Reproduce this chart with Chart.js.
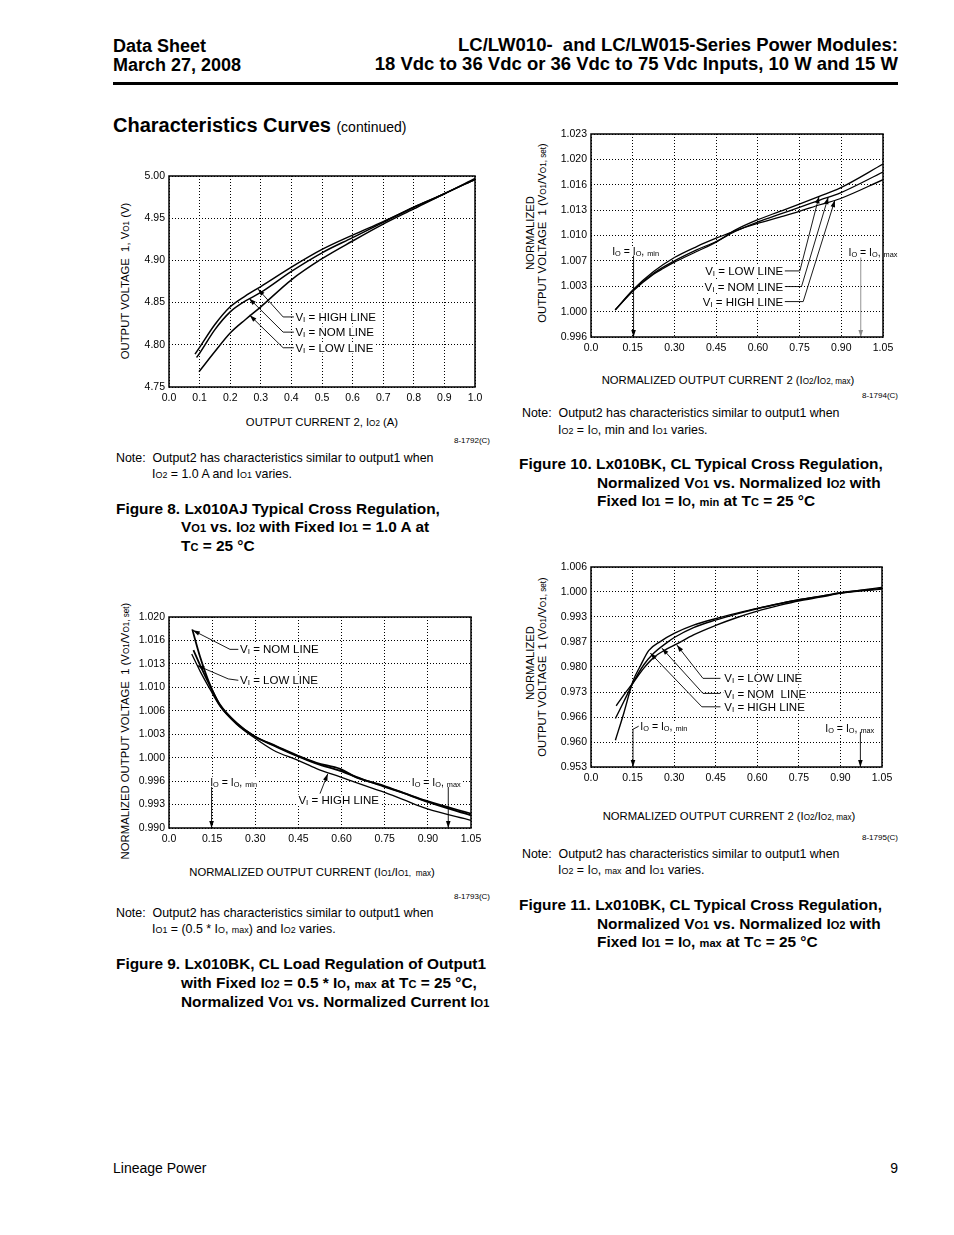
<!DOCTYPE html>
<html>
<head>
<meta charset="utf-8">
<script src="https://cdn.jsdelivr.net/npm/chart.js@4.4.1/dist/chart.umd.min.js"></script>
<style>
body { margin: 0; background: #fff; }
#page { position: relative; width: 954px; height: 1235px; overflow: hidden; font-family: "Liberation Sans", Arial, Helvetica, sans-serif; color: #000; }
.t { position: absolute; white-space: nowrap; line-height: 1; }
.s { font-size: 72%; }
.hd { font-size: 18px; font-weight: bold; }
.hr { font-size: 18.5px; font-weight: bold; }
.nt { font-size: 12.4px; }
.cp { font-size: 15.4px; font-weight: bold; }
.cd { font-size: 8px; }
.ax { font-size: 11.3px; transform: translateX(-50%); }
.ay { font-size: 11.3px; transform: translate(-50%, -50%) rotate(-90deg); }
canvas { position: absolute; }
</style>
</head>
<body>
<div id="page">

<div class="t hd" style="left:113px;top:37px">Data Sheet</div>
<div class="t hd" style="left:113px;top:56px">March 27, 2008</div>
<div class="t hr" style="right:56px;top:36px">LC/LW010-&nbsp; and LC/LW015-Series Power Modules:</div>
<div class="t hr" style="right:56px;top:55px">18 Vdc to 36 Vdc or 36 Vdc to 75 Vdc Inputs, 10 W and 15 W</div>
<div style="position:absolute;left:113px;top:82px;width:785px;height:3px;background:#000"></div>
<div class="t" style="left:113px;top:115px;font-size:20px;font-weight:bold">Characteristics Curves <span style="font-size:14px;font-weight:normal">(continued)</span></div>

<!-- figure 8 texts -->
<div class="t ay" style="left:126px;top:281px">OUTPUT VOLTAGE&nbsp; 1, V<span class="s">O1</span> (V)</div>
<div class="t ax" style="left:322px;top:417px">OUTPUT CURRENT 2, I<span class="s">O2</span> (A)</div>
<div class="t cd" style="right:464px;top:437px">8-1792(C)</div>
<div class="t nt" style="left:116px;top:452px">Note:&nbsp; Output2 has characteristics similar to output1 when</div>
<div class="t nt" style="left:152px;top:468px">I<span class="s">O2</span> = 1.0 A and I<span class="s">O1</span> varies.</div>
<div class="t cp" style="left:116px;top:501px">Figure 8. Lx010AJ Typical Cross Regulation,</div>
<div class="t cp" style="left:181px;top:519px">V<span class="s">O1</span> vs. I<span class="s">O2</span> with Fixed I<span class="s">O1</span> = 1.0 A at</div>
<div class="t cp" style="left:181px;top:538px">T<span class="s">C</span> = 25 °C</div>

<!-- figure 10 texts -->
<div class="t ay" style="left:531px;top:233px">NORMALIZED</div>
<div class="t ay" style="left:543px;top:233px">OUTPUT VOLTAGE&nbsp; 1 (V<span class="s">O1</span>/V<span class="s">O1, set</span>)</div>
<div class="t ax" style="left:728px;top:375px">NORMALIZED OUTPUT CURRENT 2 (I<span class="s">O2</span>/I<span class="s">O2, max</span>)</div>
<div class="t cd" style="right:56px;top:392px">8-1794(C)</div>
<div class="t nt" style="left:522px;top:407px">Note:&nbsp; Output2 has characteristics similar to output1 when</div>
<div class="t nt" style="left:558px;top:424px">I<span class="s">O2</span> = I<span class="s">O</span>, min and I<span class="s">O1</span> varies.</div>
<div class="t cp" style="left:519px;top:456px">Figure 10. Lx010BK, CL Typical Cross Regulation,</div>
<div class="t cp" style="left:597px;top:475px">Normalized V<span class="s">O1</span> vs. Normalized I<span class="s">O2</span> with</div>
<div class="t cp" style="left:597px;top:493px">Fixed I<span class="s">O1</span> = I<span class="s">O</span>, <span class="s">min</span> at T<span class="s">C</span> = 25 °C</div>

<!-- figure 9 texts -->
<div class="t ay" style="left:126px;top:731px">NORMALIZED OUTPUT VOLTAGE&nbsp; 1 (V<span class="s">O1</span>/V<span class="s">O1, set</span>)</div>
<div class="t ax" style="left:312px;top:867px">NORMALIZED OUTPUT CURRENT (I<span class="s">O1</span>/I<span class="s">O1,&nbsp; max</span>)</div>
<div class="t cd" style="right:464px;top:893px">8-1793(C)</div>
<div class="t nt" style="left:116px;top:907px">Note:&nbsp; Output2 has characteristics similar to output1 when</div>
<div class="t nt" style="left:152px;top:923px">I<span class="s">O1</span> = (0.5 * I<span class="s">O</span>, <span class="s">max</span>) and I<span class="s">O2</span> varies.</div>
<div class="t cp" style="left:116px;top:956px">Figure 9. Lx010BK, CL Load Regulation of Output1</div>
<div class="t cp" style="left:181px;top:975px">with Fixed I<span class="s">O2</span> = 0.5 * I<span class="s">O</span>, <span class="s">max</span> at T<span class="s">C</span> = 25 °C,</div>
<div class="t cp" style="left:181px;top:994px">Normalized V<span class="s">O1</span> vs. Normalized Current I<span class="s">O1</span></div>

<!-- figure 11 texts -->
<div class="t ay" style="left:531px;top:663px">NORMALIZED</div>
<div class="t ay" style="left:543px;top:667px">OUTPUT VOLTAGE&nbsp; 1 (V<span class="s">O1</span>/V<span class="s">O1, set</span>)</div>
<div class="t ax" style="left:729px;top:811px">NORMALIZED OUTPUT CURRENT 2 (I<span class="s">O2</span>/I<span class="s">O2, max</span>)</div>
<div class="t cd" style="right:56px;top:834px">8-1795(C)</div>
<div class="t nt" style="left:522px;top:848px">Note:&nbsp; Output2 has characteristics similar to output1 when</div>
<div class="t nt" style="left:558px;top:864px">I<span class="s">O2</span> = I<span class="s">O</span>, <span class="s">max</span> and I<span class="s">O1</span> varies.</div>
<div class="t cp" style="left:519px;top:897px">Figure 11. Lx010BK, CL Typical Cross Regulation,</div>
<div class="t cp" style="left:597px;top:916px">Normalized V<span class="s">O1</span> vs. Normalized I<span class="s">O2</span> with</div>
<div class="t cp" style="left:597px;top:934px">Fixed I<span class="s">O1</span> = I<span class="s">O</span>, <span class="s">max</span> at T<span class="s">C</span> = 25 °C</div>

<div class="t" style="left:113px;top:1161px;font-size:14px">Lineage Power</div>
<div class="t" style="right:56px;top:1161px;font-size:14px">9</div>

<canvas id="fig8"></canvas>
<canvas id="fig10"></canvas>
<canvas id="fig9"></canvas>
<canvas id="fig11"></canvas>
</div>

<script>
// ---------- data ----------

// Figure 8: Vo1 (V) vs Io2 (A)
const fig8XTicks = ['0.0', '0.1', '0.2', '0.3', '0.4', '0.5', '0.6', '0.7', '0.8', '0.9', '1.0'];
const fig8YTicks = ['4.75', '4.80', '4.85', '4.90', '4.95', '5.00'];
const fig8HighX = [0.085, 0.10, 0.15, 0.20, 0.25, 0.30, 0.40, 0.50, 0.60, 0.70, 0.80, 0.90, 1.00];
const fig8HighY = [4.789, 4.797, 4.824, 4.845, 4.858, 4.869, 4.892, 4.913, 4.930, 4.946, 4.963, 4.979, 4.997];
const fig8NomX = [0.09, 0.10, 0.15, 0.20, 0.25, 0.30, 0.40, 0.50, 0.60, 0.70, 0.80, 0.90, 1.00];
const fig8NomY = [4.785, 4.790, 4.818, 4.839, 4.852, 4.862, 4.887, 4.909, 4.927, 4.945, 4.963, 4.979, 4.996];
const fig8LowX = [0.098, 0.15, 0.20, 0.25, 0.30, 0.40, 0.50, 0.60, 0.70, 0.80, 0.90, 1.00];
const fig8LowY = [4.768, 4.792, 4.814, 4.830, 4.845, 4.877, 4.902, 4.923, 4.943, 4.961, 4.979, 4.996];

// Figure 10: normalized Vo1 vs normalized Io2, Io1 = Io,min
const fig10XTicks = ['0.0', '0.15', '0.30', '0.45', '0.60', '0.75', '0.90', '1.05'];
const fig10YTicks = ['0.996', '1.000', '1.003', '1.007', '1.010', '1.013', '1.016', '1.020', '1.023'];
const fig10X = [0.087, 0.153, 0.225, 0.300, 0.380, 0.450, 0.518, 0.599, 0.679, 0.749, 0.823, 0.895, 1.05];
const fig10High = [0.9996, 1.00235, 1.00470, 1.00657, 1.00803, 1.00914, 1.01012, 1.01110, 1.01194, 1.01270, 1.01359, 1.01439, 1.01692];
const fig10Nom = [0.9996, 1.00226, 1.00448, 1.00613, 1.00759, 1.00870, 1.01003, 1.01128, 1.01234, 1.01323, 1.01421, 1.01514, 1.01794];
const fig10LowX = [0.087, 0.153, 0.225, 0.261, 0.300, 0.380, 0.450, 0.518, 0.599, 0.679, 0.749, 0.823, 0.895, 1.05];
const fig10Low = [0.9996, 1.00217, 1.00435, 1.00515, 1.00595, 1.00737, 1.00861, 1.01021, 1.01159, 1.01270, 1.01368, 1.01474, 1.01581, 1.01900];

// Figure 9: normalized Vo1 vs normalized Io1
const fig9XTicks = ['0.0', '0.15', '0.30', '0.45', '0.60', '0.75', '0.90', '1.05'];
const fig9YTicks = ['0.990', '0.993', '0.996', '1.000', '1.003', '1.006', '1.010', '1.013', '1.016', '1.020'];
const fig9NomX = [0.081, 0.108, 0.143, 0.177, 0.235, 0.297, 0.374, 0.447, 0.513, 0.595, 0.676, 0.745, 0.815, 0.896, 1.05];
const fig9Nom = [1.01824, 1.01435, 1.01032, 1.00747, 1.00486, 1.00305, 1.00154, 1.00021, 0.99916, 0.99812, 0.99688, 0.99593, 0.99498, 0.99385, 0.99204];
const fig9LowX = [0.085, 0.108, 0.143, 0.177, 0.235, 0.297, 0.374, 0.447, 0.513, 0.595, 0.653, 0.745, 0.815, 0.896, 1.05];
const fig9Low = [1.01530, 1.01317, 1.01018, 1.00756, 1.00495, 1.00305, 1.00163, 1.00030, 0.99926, 0.99840, 0.99717, 0.99603, 0.99498, 0.99375, 0.99180];
const fig9HighX = [0.079, 0.108, 0.143, 0.177, 0.235, 0.297, 0.363, 0.447, 0.513, 0.595, 0.676, 0.745, 0.815, 0.896, 1.05];
const fig9High = [1.01473, 1.01231, 1.00970, 1.00733, 1.00476, 1.00282, 1.00106, 0.99964, 0.99845, 0.99726, 0.99608, 0.99513, 0.99403, 0.99275, 0.99109];

// Figure 11: normalized Vo1 vs normalized Io2, Io1 = Io,max
const fig11XTicks = ['0.0', '0.15', '0.30', '0.45', '0.60', '0.75', '0.90', '1.05'];
const fig11YTicks = ['0.953', '0.960', '0.966', '0.973', '0.980', '0.987', '0.993', '1.000', '1.006'];
const fig11HighX = [0.088, 0.118, 0.152, 0.178, 0.208, 0.250, 0.302, 0.370, 0.452, 0.527, 0.603, 0.683, 0.753, 0.828, 0.900, 1.05];
const fig11High = [0.96009, 0.96718, 0.97587, 0.97977, 0.98384, 0.98624, 0.98845, 0.99058, 0.99235, 0.99377, 0.99510, 0.99634, 0.99732, 0.99820, 0.99909, 1.00059];
const fig11NomX = [0.088, 0.118, 0.152, 0.190, 0.226, 0.274, 0.302, 0.370, 0.452, 0.527, 0.603, 0.683, 0.753, 0.828, 0.900, 1.05];
const fig11Nom = [0.96585, 0.97028, 0.97533, 0.98003, 0.98313, 0.98597, 0.98739, 0.98996, 0.99200, 0.99359, 0.99501, 0.99634, 0.99740, 0.99829, 0.99918, 1.00033];
const fig11LowX = [0.091, 0.118, 0.152, 0.190, 0.226, 0.274, 0.310, 0.370, 0.452, 0.527, 0.603, 0.683, 0.753, 0.828, 0.900, 1.05];
const fig11Low = [0.96922, 0.97206, 0.97533, 0.97914, 0.98198, 0.98429, 0.98562, 0.98801, 0.99058, 0.99262, 0.99439, 0.99590, 0.99705, 0.99802, 0.99900, 1.00015];

// ---------- helpers ----------
const FONT = '"Liberation Sans", Arial, Helvetica, sans-serif';

function pts(xs, ys) {
    return xs.map((x, i) => ({ x: x, y: ys[i] }));
}

function curve(data, width) {
    return {
        data: data,
        showLine: true,
        borderColor: '#000',
        borderWidth: width,
        pointRadius: 0,
        cubicInterpolationMode: 'monotone'
    };
}

// axis whose grid lines are evenly spaced between min and max, labels taken from the list
function axis(min, max, labels, vertical) {
    return {
        type: 'linear',
        min: min,
        max: max,
        afterBuildTicks: function (s) {
            s.ticks = labels.map((l, i) => ({ value: min + i * (max - min) / (labels.length - 1) }));
        },
        afterFit: function (s) {
            if (vertical) s.width = 46; else s.height = 22;
        },
        ticks: {
            callback: (v, i) => labels[i],
            autoSkip: false,
            maxRotation: 0,
            minRotation: 0,
            padding: vertical ? 4 : 5,
            color: '#000',
            font: { size: 10.5, family: FONT }
        },
        grid: { color: '#000', lineWidth: 1, drawTicks: false },
        border: { display: false, dash: [1, 2] }
    };
}

// leader lines, arrows and labels inside the plots, in data units
const notes = {
    fig8: {
        leaders: [
            { pts: [[0.408, 4.833], [0.373, 4.833], [0.291, 4.866]] },
            { pts: [[0.408, 4.815], [0.373, 4.815], [0.262, 4.855]] },
            { pts: [[0.408, 4.7965], [0.373, 4.7965], [0.264, 4.835]] }
        ],
        labels: [
            { x: 0.413, y: 4.833, parts: [['V'], ['I', 1], [' = HIGH LINE']] },
            { x: 0.413, y: 4.815, parts: [['V'], ['I', 1], [' = NOM LINE']] },
            { x: 0.413, y: 4.7965, parts: [['V'], ['I', 1], [' = LOW LINE']] }
        ]
    },
    fig10: {
        leaders: [
            { pts: [[0.697, 1.00479], [0.751, 1.00479], [0.82, 1.0147]] },
            { pts: [[0.697, 1.00271], [0.757, 1.00271], [0.853, 1.0146]] },
            { pts: [[0.697, 1.00071], [0.763, 1.00071], [0.877, 1.0142]] },
            { pts: [[0.153, 1.00684], [0.153, 0.996]] },
            { pts: [[0.970, 1.00657], [0.970, 0.996]], color: '#888' }
        ],
        labels: [
            { x: 0.691, y: 1.00479, align: 'right', parts: [['V'], ['I', 1], [' = LOW LINE']] },
            { x: 0.691, y: 1.00271, align: 'right', parts: [['V'], ['I', 1], [' = NOM LINE']] },
            { x: 0.691, y: 1.00071, align: 'right', parts: [['V'], ['I', 1], [' = HIGH LINE']] },
            { x: 0.076, y: 1.00737, size: 10.5, parts: [['I'], ['O', 1], [' = I'], ['O', 1], [', '], ['min', 1]] },
            { x: 0.926, y: 1.00724, size: 10.5, parts: [['I'], ['O', 1], [' = I'], ['O', 1], [', '], ['max', 1]] }
        ]
    },
    fig9: {
        leaders: [
            { pts: [[0.241, 1.0154], [0.212, 1.0154], [0.083, 1.0181]] },
            { pts: [[0.241, 1.0110], [0.206, 1.0112], [0.0985, 1.0131]] },
            { pts: [[0.525, 0.99489], [0.552, 0.9977]] },
            { pts: [[0.148, 0.99584], [0.148, 0.990]] },
            { pts: [[0.971, 0.99584], [0.971, 0.990]] }
        ],
        labels: [
            { x: 0.247, y: 1.0154, parts: [['V'], ['I', 1], [' = NOM LINE']] },
            { x: 0.247, y: 1.0110, parts: [['V'], ['I', 1], [' = LOW LINE']] },
            { x: 0.450, y: 0.99394, parts: [['V'], ['I', 1], [' = HIGH LINE']] },
            { x: 0.143, y: 0.99655, size: 10.5, parts: [['I'], ['O', 1], [' = I'], ['O', 1], [', '], ['min', 1]] },
            { x: 0.844, y: 0.99655, size: 10.5, parts: [['I'], ['O', 1], [' = I'], ['O', 1], [', '], ['max', 1]] }
        ]
    },
    fig11: {
        leaders: [
            { pts: [[0.467, 0.97649], [0.404, 0.97649], [0.310, 0.9853]] },
            { pts: [[0.467, 0.97250], [0.404, 0.97250], [0.256, 0.9845]] },
            { pts: [[0.467, 0.96895], [0.400, 0.96895], [0.214, 0.9832]] },
            { pts: [[0.172, 0.96381], [0.1515, 0.96300], [0.1515, 0.953]] },
            { pts: [[0.972, 0.96231], [0.972, 0.953]] }
        ],
        labels: [
            { x: 0.481, y: 0.97649, parts: [['V'], ['I', 1], [' = LOW LINE']] },
            { x: 0.481, y: 0.97250, parts: [['V'], ['I', 1], [' = NOM  LINE']] },
            { x: 0.481, y: 0.96895, parts: [['V'], ['I', 1], [' = HIGH LINE']] },
            { x: 0.178, y: 0.96381, size: 10.5, parts: [['I'], ['O', 1], [' = I'], ['O', 1], [', '], ['min', 1]] },
            { x: 0.8455, y: 0.96337, size: 10.5, parts: [['I'], ['O', 1], [' = I'], ['O', 1], [', '], ['max', 1]] }
        ]
    }
};

// text with small subscript pieces, on a white patch that hides the grid
function drawRich(ctx, parts, x, y, align, size) {
    var w = 0;
    parts.forEach(p => {
        ctx.font = (p[1] ? size * 0.7 : size) + 'px ' + FONT;
        w += ctx.measureText(p[0]).width;
    });
    var cx = align === 'right' ? x - w : (align === 'center' ? x - w / 2 : x);
    ctx.fillStyle = '#fff';
    ctx.fillRect(cx - 1, y - size * 0.5, w + 2, size * 1.0);
    ctx.fillStyle = '#000';
    ctx.textAlign = 'left';
    ctx.textBaseline = 'alphabetic';
    parts.forEach(p => {
        ctx.font = (p[1] ? size * 0.7 : size) + 'px ' + FONT;
        ctx.fillText(p[0], cx, y + size * 0.36 + (p[1] ? 1 : 0));
        cx += ctx.measureText(p[0]).width;
    });
}

const sheetPlugin = {
    id: 'sheet',
    afterDatasetsDraw(chart) {
        const ctx = chart.ctx, a = chart.chartArea;
        const xs = chart.scales.x, ys = chart.scales.y;
        const n = notes[chart.canvas.id] || { leaders: [], labels: [] };
        ctx.save();
        ctx.setLineDash([]);

        n.labels.forEach(lb => {
            drawRich(ctx, lb.parts, xs.getPixelForValue(lb.x), ys.getPixelForValue(lb.y), lb.align || 'left', lb.size || 11.5);
        });

        n.leaders.forEach(ld => {
            const p = ld.pts.map(q => [xs.getPixelForValue(q[0]), ys.getPixelForValue(q[1])]);
            ctx.strokeStyle = ld.color || '#000';
            ctx.fillStyle = ld.color || '#000';
            ctx.lineWidth = 0.9;
            ctx.beginPath();
            ctx.moveTo(p[0][0], p[0][1]);
            for (var i = 1; i < p.length; i++) ctx.lineTo(p[i][0], p[i][1]);
            ctx.stroke();
            const x1 = p[p.length - 1][0], y1 = p[p.length - 1][1];
            const x0 = p[p.length - 2][0], y0 = p[p.length - 2][1];
            const ang = Math.atan2(y1 - y0, x1 - x0), L = 7, W = 2.3;
            ctx.beginPath();
            ctx.moveTo(x1, y1);
            ctx.lineTo(x1 - L * Math.cos(ang) + W * Math.sin(ang), y1 - L * Math.sin(ang) - W * Math.cos(ang));
            ctx.lineTo(x1 - L * Math.cos(ang) - W * Math.sin(ang), y1 - L * Math.sin(ang) + W * Math.cos(ang));
            ctx.closePath();
            ctx.fill();
        });

        ctx.strokeStyle = '#000';
        ctx.lineWidth = 1.5;
        ctx.strokeRect(a.left, a.top, a.right - a.left, a.bottom - a.top);
        ctx.restore();
    }
};

// place a canvas so that its plot area lands on the given page box
function makeChart(id, box, datasets, xAxis, yAxis) {
    const el = document.getElementById(id);
    const w = box.R - box.L + 46 + 16, h = box.B - box.T + 12 + 22;
    el.width = w;
    el.height = h;
    el.style.left = (box.L - 46) + 'px';
    el.style.top = (box.T - 12) + 'px';
    el.style.width = w + 'px';
    el.style.height = h + 'px';
    return new Chart(el.getContext('2d'), {
        type: 'scatter',
        data: { datasets: datasets },
        options: {
            responsive: false,
            animation: false,
            devicePixelRatio: 1,
            layout: { padding: { left: 0, top: 12, right: 16, bottom: 0 } },
            plugins: { legend: { display: false }, tooltip: { enabled: false } },
            scales: { x: xAxis, y: yAxis }
        },
        plugins: [sheetPlugin]
    });
}

makeChart('fig8', { L: 169, T: 176, R: 475, B: 387 }, [
    curve(pts(fig8HighX, fig8HighY), 1.5),
    curve(pts(fig8NomX, fig8NomY), 1.5),
    curve(pts(fig8LowX, fig8LowY), 1.5)
], axis(0, 1.0, fig8XTicks, false), axis(4.75, 5.00, fig8YTicks, true));

makeChart('fig10', { L: 591, T: 134, R: 883, B: 337 }, [
    curve(pts(fig10X, fig10High), 1.3),
    curve(pts(fig10X, fig10Nom), 1.3),
    curve(pts(fig10LowX, fig10Low), 1.3)
], axis(0, 1.05, fig10XTicks, false), axis(0.996, 1.023, fig10YTicks, true));

makeChart('fig9', { L: 169, T: 617, R: 471, B: 828 }, [
    curve(pts(fig9NomX, fig9Nom), 1.8),
    curve(pts(fig9LowX, fig9Low), 1.8),
    curve(pts(fig9HighX, fig9High), 1.3)
], axis(0, 1.05, fig9XTicks, false), axis(0.990, 1.020, fig9YTicks, true));

makeChart('fig11', { L: 591, T: 567, R: 882, B: 767 }, [
    curve(pts(fig11HighX, fig11High), 1.4),
    curve(pts(fig11NomX, fig11Nom), 1.4),
    curve(pts(fig11LowX, fig11Low), 1.4)
], axis(0, 1.05, fig11XTicks, false), axis(0.953, 1.006, fig11YTicks, true));
</script>
</body>
</html>
